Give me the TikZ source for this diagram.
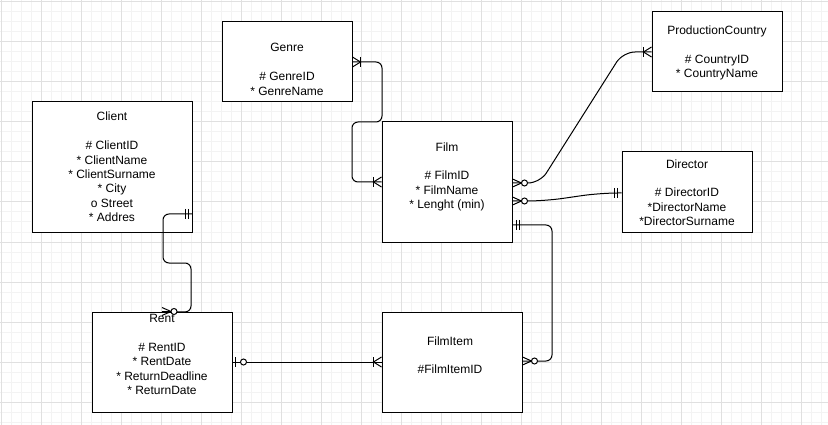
\documentclass[tikz,border=0pt]{standalone}
\usepackage{fontspec}
\setmainfont{Liberation Sans}
\usepackage{xcolor}
\definecolor{gridmajor}{HTML}{E0E0E0}
\definecolor{gridminor}{HTML}{F3F3F3}

\begin{document}
\begin{tikzpicture}[x=1pt,y=-1pt,
    zeromany/.pic={\draw[M] (0,-4) -- (9,0) -- (0,4); \draw[M,fill=white] (12,0) circle (3pt);},
    onemany/.pic={\draw[M] (0,-5) -- (8,0) -- (0,5); \draw[M] (8,-5) -- (8,5);},
    mandone/.pic={\draw[M] (4,-5) -- (4,5); \draw[M] (7,-5) -- (7,5);},
    zeroone/.pic={\draw[M] (3,-5) -- (3,5); \draw[M,fill=white] (11,0) circle (3pt);}]
    \tikzstyle{E}=[rectangle,draw,line width=1pt,fill=white,inner sep=0pt]
    \tikzstyle{T}=[align=center,inner sep=0pt,anchor=north,font=\fontsize{12}{14.4}\selectfont]
    \tikzstyle{R}=[line width=1pt,rounded corners=6pt]
    \tikzstyle{M}=[line width=1pt]

    % Background grid
    \useasboundingbox (0,0) rectangle (828,425);
    \fill[white] (0,0) rectangle (828,425);
    \foreach \x in {1,11,...,821} \draw[gridminor,line width=1pt] (\x,0) -- (\x,425);
    \foreach \y in {2,12,...,422} \draw[gridminor,line width=1pt] (0,\y) -- (828,\y);
    \foreach \x in {1,41,...,801} \draw[gridmajor,line width=1pt] (\x,0) -- (\x,425);
    \foreach \y in {2,42,...,402} \draw[gridmajor,line width=1pt] (0,\y) -- (828,\y);

    % Entities
    \node[E,minimum width=160pt,minimum height=130pt] (client) at (112,167) {};
    \node[E,minimum width=130pt,minimum height=80pt] (genre) at (287,62) {};
    \node[E,minimum width=130pt,minimum height=120pt] (film) at (447,182) {};
    \node[E,minimum width=130pt,minimum height=80pt] (country) at (717,52) {};
    \node[E,minimum width=130pt,minimum height=80pt] (director) at (687,192) {};
    \node[E,minimum width=140pt,minimum height=100pt] (rent) at (162,362) {};
    \node[E,minimum width=140pt,minimum height=100pt] (filmitem) at (452,362) {};

    \node[T] (client-t) at (112,112) {Client\\ \\\# ClientID\\* ClientName\\* ClientSurname\\* City\\o Street\\* Addres};
    \node[T] (genre-t) at (287,43.3) {Genre\\ \\\# GenreID\\* GenreName};
    \node[T] (film-t) at (447,142.3) {Film\\ \\\# FilmID\\* FilmName\\* Lenght (min)};
    \node[T] (country-t) at (717,25.8) {ProductionCountry\\ \\\# CountryID\\* CountryName};
    \node[T] (director-t) at (687,159.3) {Director\\ \\\# DirectorID\\*DirectorName\\*DirectorSurname};
    \node[T] (rent-t) at (162,314.3) {Rent\\ \\\# RentID\\* RentDate\\* ReturnDeadline\\* ReturnDate};
    \node[T] (filmitem-t) at (450,336.3) {FilmItem\\ \\\#FilmItemID};

    % Relations
    \draw[R] (client.east |- 0,214) -- (163,214) -- (163,263) -- (191,263) -- (191,312) -- (rent.north);
    \draw[R] (genre.east) -- (382,62) -- (382,122) -- (352,122) -- (352,182) -- (film.west);
    \draw[R,rounded corners=12pt] (film.east |- 0,183) -- (540,183) -- (623,52) -- (country.west);
    \draw[R,rounded corners=18pt] (film.east |- 0,201) -- (545,201) -- (600,193) -- (director.west |- 0,193);
    \draw[R] (film.east |- 0,225) -- (552,225) -- (552,361) -- (filmitem.east |- 0,361);
    \draw[R] (rent.east) -- (filmitem.west);

    % Ends
    \pic[xscale=-1] at (client.east |- 0,214) {mandone};
    \pic at (rent.north) {zeromany};
    \pic at (genre.east) {onemany};
    \pic[xscale=-1] at (film.west) {onemany};
    \pic at (film.east |- 0,183) {zeromany};
    \pic[xscale=-1] at (country.west) {onemany};
    \pic at (film.east |- 0,201) {zeromany};
    \pic[xscale=-1] at (director.west |- 0,193) {mandone};
    \pic at (film.east |- 0,225) {mandone};
    \pic at (filmitem.east |- 0,361) {zeromany};
    \pic at (rent.east) {zeroone};
    \pic[xscale=-1] at (filmitem.west) {onemany};
\end{tikzpicture}
\end{document}
